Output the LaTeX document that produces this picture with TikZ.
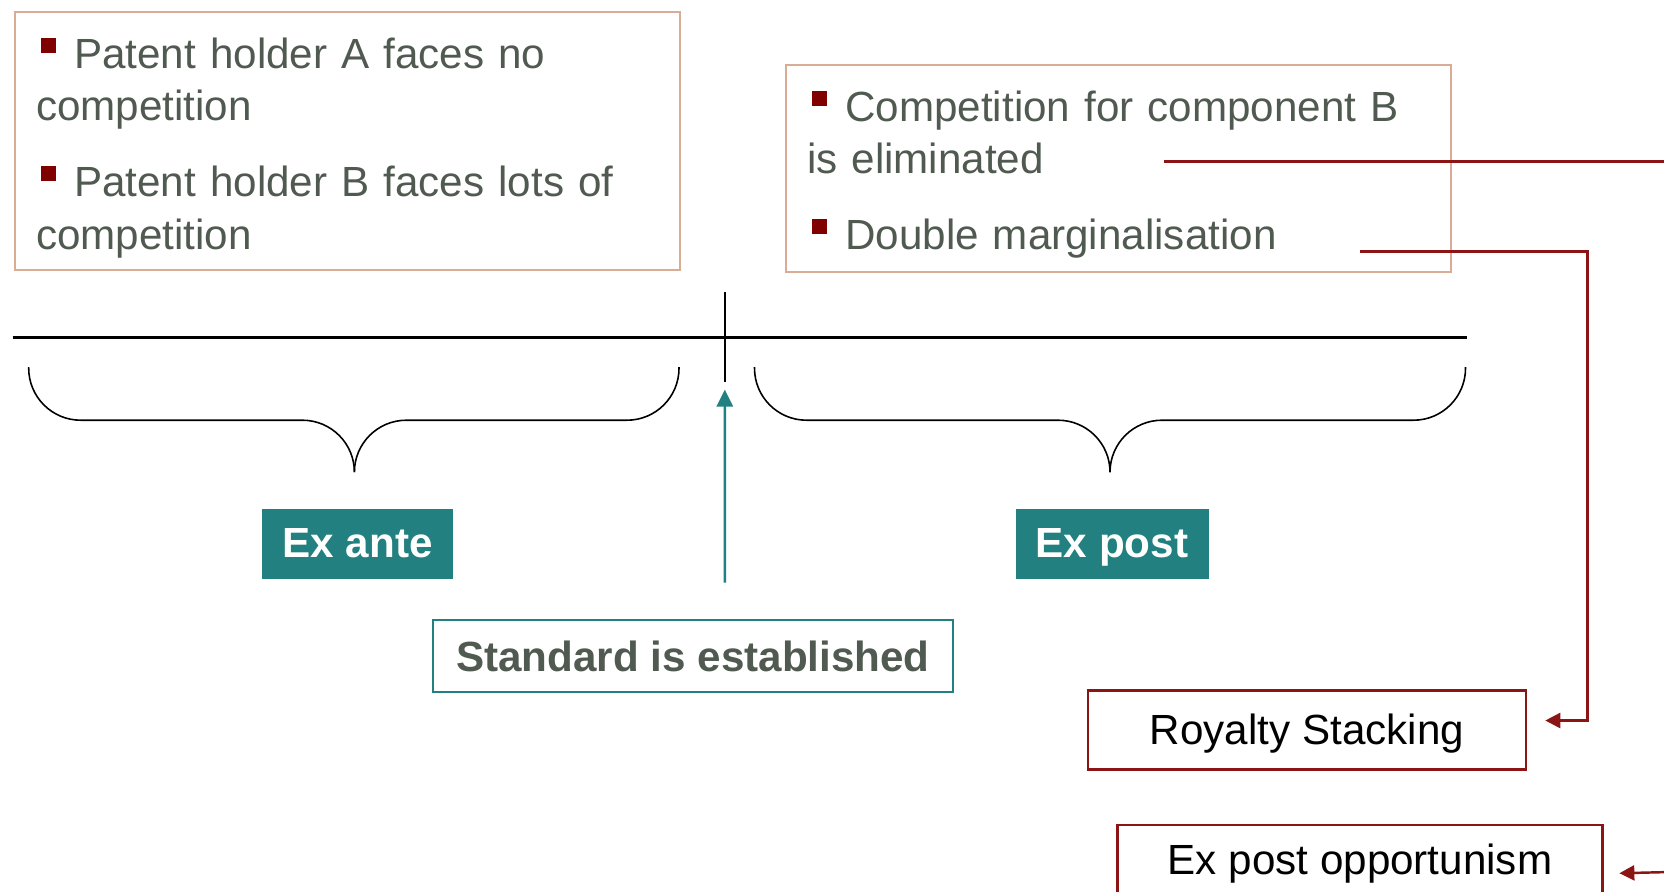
\documentclass[tikz,border=0pt]{standalone}
\usepackage{fontspec}
\setmainfont{Liberation Sans}
\usetikzlibrary{arrows.meta, positioning, calc}
\definecolor{tealbar}{RGB}{34,128,128}
\definecolor{sagetext}{RGB}{80,90,80}
\definecolor{bulred}{RGB}{128,0,0}
\definecolor{linkred}{RGB}{139,20,20}
\definecolor{tanframe}{RGB}{217,172,150}
\newcommand{\sqbul}{\hspace*{0.05cm}\textcolor{bulred}{\rule[0.36em]{0.36em}{0.36em}}\hspace{0.18cm}}

\tikzset{
  notebox/.style={draw=tanframe, line width=0.6pt, text=sagetext, align=left, text width=6.23cm, inner xsep=0.21cm, inner ysep=0pt, anchor=north west, font=\fontsize{12}{15}\selectfont},
  phasebox/.style={fill=tealbar, text=white, minimum width=1.91cm, minimum height=0.70cm, inner sep=0pt, text height=0.9em, text depth=0.14em, font=\fontsize{12}{14}\selectfont\bfseries},
  effectbox/.style={draw=linkred, line width=0.7pt, minimum height=0.786cm, inner sep=0pt, text height=1em, text depth=0.15em, font=\fontsize{12}{14}\selectfont},
  bracestroke/.style={line width=0.45pt, rounded corners=0.52cm},
  redlink/.style={draw=linkred, line width=0.7pt},
}

\begin{document}
\begin{tikzpicture}
  \useasboundingbox (0,0) rectangle (16.64,8.91);
  \clip (0,0) rectangle (16.64,8.91);

  % the two text boxes on top
  \node[notebox, text height=0.56cm, text depth=2.015cm] (anteNote) at (0.14,8.80) {\sqbul Patent holder A faces no\\competition\\[6.5pt]\sqbul Patent holder B faces lots of\\competition};
  \node[notebox, text height=0.563cm, text depth=1.506cm] (postNote) at (7.85,8.273) {\sqbul Competition for component B\\is eliminated\\[6.5pt]\sqbul Double marginalisation};

  % timeline
  \coordinate (tlStart) at (0.127,5.535);
  \coordinate (tlEnd) at (14.666,5.535);
  \coordinate (tickTop) at (7.248,5.992);
  \coordinate (tickBot) at (7.248,5.09);
  \draw[line width=0.6pt] (tlStart) -- (tlEnd);
  \draw[line width=0.7pt] (tickTop) -- (tickBot);

  % braces
  \draw[bracestroke] (0.287,5.24) |- (3.544,4.708) -- (3.544,4.188);
  \draw[bracestroke] (6.79,5.24) |- (3.544,4.708) -- (3.544,4.188);
  \draw[bracestroke] (7.545,5.24) |- (11.10,4.708) -- (11.10,4.188);
  \draw[bracestroke] (14.655,5.24) |- (11.10,4.708) -- (11.10,4.188);

  \node[phasebox] (exante) at (3.576,3.47) {Ex ante};
  \node[phasebox, minimum width=1.93cm] (expost) at (11.12,3.47) {Ex post};

  \node[draw=tealbar, line width=0.6pt, text=sagetext, minimum width=5.20cm, minimum height=0.72cm, inner sep=0pt, text height=1em, text depth=0.14em, font=\fontsize{12}{14}\selectfont\bfseries] (std) at (6.93,2.35) {Standard is established};
  \draw[tealbar, line width=0.7pt, -{Triangle[length=0.17cm, width=0.16cm]}] ($(std.north)+(0.318,0.363)$) -- ($(tickBot)+(0,-0.075)$);

  \node[effectbox, minimum width=4.38cm] (royalty) at (13.07,1.61) {Royalty Stacking};
  \node[effectbox, minimum width=4.85cm, minimum height=0.70cm, anchor=north] (opport) at (13.6,0.675) {Ex post opportunism};

  % links to the effects
  \coordinate (elimEnd) at (11.64,7.297);
  \coordinate (elimOut) at (16.7,7.297);
  \coordinate (margEnd) at (13.60,6.395);
  \coordinate (margTurn) at (15.875,6.395);
  \coordinate (opportIn) at (16.7,0.19);
  \draw[redlink] (elimEnd) -- (elimOut);
  \draw[redlink, -{Triangle[length=0.15cm, width=0.15cm]}] (margEnd) -- (margTurn) |- ($(royalty.east)+(0.18,0.095)$);
  \draw[redlink, -{Triangle[length=0.15cm, width=0.15cm]}] (opportIn) -- ($(opport.east)+(0.156,-0.135)$);
\end{tikzpicture}
\end{document}
